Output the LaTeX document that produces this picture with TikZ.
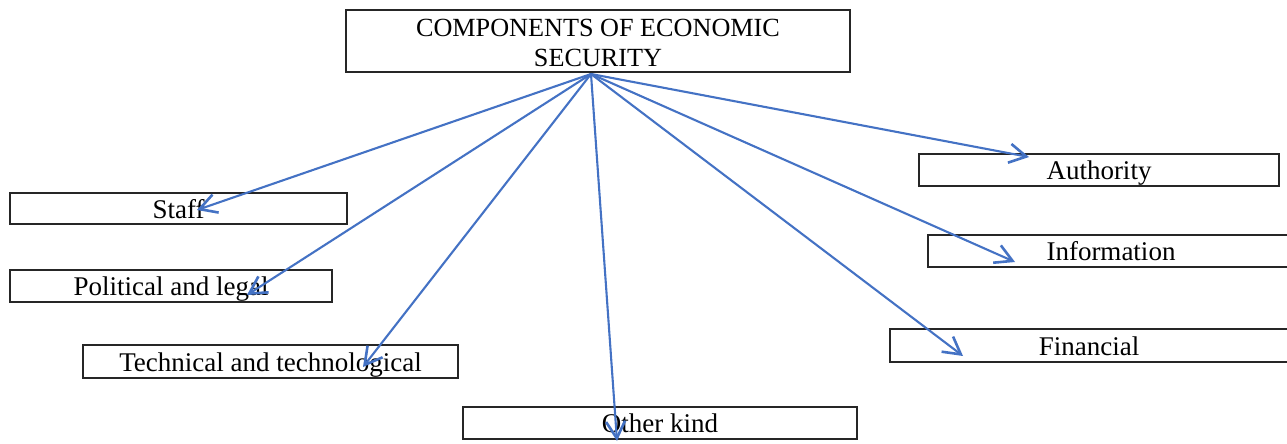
\documentclass[tikz,border=0pt]{standalone}
\usepackage{fontspec}
\setmainfont{Liberation Serif}
\usetikzlibrary{arrows.meta}
\definecolor{pijlblauw}{RGB}{68,114,196}

\begin{document}
\begin{tikzpicture}[
      x=0.5pt, y=-0.5pt,
      blok/.style={
        draw=black!85,
        line width=1pt,
        rectangle,
        inner sep=0pt,
        text height=10pt,
        text depth=0.2pt,
        font=\fontsize{13.5}{15.5}\selectfont
      },
      pijl/.style={
        draw=pijlblauw,
        line width=1.05pt,
        -{Straight Barb[length=8.5pt,width=9.5pt,line width=1.3pt]}
      }
    ]
      \useasboundingbox (0,0) rectangle (1287,444);

      \node (comp) at (598,41) [blok,text height=,text depth=,align=center,font=\fontsize{13.1}{15.2}\selectfont,
        minimum width=252pt,minimum height=31pt]{\rule{0pt}{10.9pt}COMPONENTS OF ECONOMIC\\SECURITY};

      \node (staff) at (178.5,208.5) [blok,minimum width=168.5pt,minimum height=15.5pt]{Staff};
      \node (polit) at (171,286) [blok,minimum width=161pt,minimum height=16pt]{Political and legal};
      \node (tech) at (270.5,361.5) [blok,minimum width=187.5pt,minimum height=16.5pt]{Technical and technological};
      \node (other) at (660,423) [blok,minimum width=197pt,minimum height=16pt]{Other kind};

      \node (auth) at (1099,170) [blok,minimum width=180pt,minimum height=16pt]{Authority};
      \node (info) at (1111,251) [blok,minimum width=183pt,minimum height=16pt]{Information};
      \node (fin) at (1089,345.5) [blok,minimum width=199pt,minimum height=16.5pt]{Financial};

      % punten waar de pijlen eindigen
      \coordinate (src) at (591,74);
      \coordinate (staff-p) at (197,210);
      \coordinate (polit-p) at (247,295);
      \coordinate (tech-p) at (363,367);
      \coordinate (other-p) at (617,441);
      \coordinate (auth-p) at (1029,157);
      \coordinate (info-p) at (1015,262);
      \coordinate (fin-p) at (963,356);

      \draw[pijl] (src) -- (staff-p);
      \draw[pijl] (src) -- (polit-p);
      \draw[pijl] (src) -- (tech-p);
      \draw[pijl] (src) -- (other-p);
      \draw[pijl] (src) -- (auth-p);
      \draw[pijl] (src) -- (info-p);
      \draw[pijl] (src) -- (fin-p);

    \end{tikzpicture}
\end{document}
